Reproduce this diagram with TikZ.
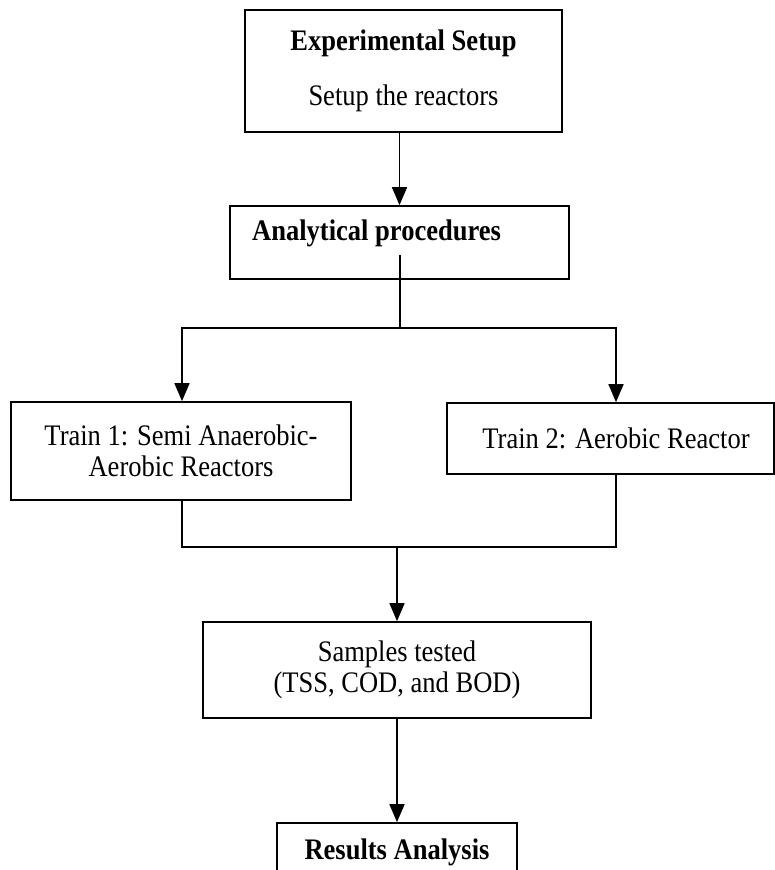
\documentclass[tikz,border=0pt]{standalone}
\usepackage{fontspec}
\setmainfont{Liberation Serif}[FakeStretch=0.89]
\usetikzlibrary{arrows.meta,calc}
\begin{document}
\begin{tikzpicture}[x=1pt,y=-1pt,
  txt/.style={font=\fontsize{29.8}{31}\selectfont},
  box/.style={draw, line width=1.7pt, inner sep=0pt, align=center, txt},
  conn/.style={line width=1.7pt},
  arr/.style={conn, -{Triangle[length=18pt,width=15pt]}}]
\useasboundingbox (0,0) rectangle (775,870);
\clip (0,0) rectangle (775,870);
% boxes
\node[box, minimum width=317pt, minimum height=122pt] (b1) at (403.5,71)
  {\textbf{Experimental Setup}\\[24pt]Setup the reactors};
\node[box, minimum width=339pt, minimum height=73pt] (b2) at (399.5,242.5) {};
\node[txt, anchor=west, inner sep=0pt] (b2t) at (252,233) {\textbf{Analytical procedures}};
\node[box, minimum width=340pt, minimum height=98pt] (b3) at (181,451)
  {Train 1: Semi Anaerobic-\\Aerobic Reactors};
\node[box, minimum width=327pt, minimum height=71pt] (b4) at (610.5,438.5) {};
\node[txt, inner sep=0pt] (b4t) at (616,438) {Train 2: Aerobic Reactor};
\node[box, minimum width=388pt, minimum height=96pt] (b5) at (397,670)
  {Samples tested\\(TSS, COD, and BOD)};
\node[box, minimum width=240pt, minimum height=58pt] (b6) at (397,852)
  {\textbf{Results Analysis}};
% coordinates
\coordinate (b2in) at (400,255);
\coordinate (splitc) at (400,328);
\coordinate (splitl) at (182,328);
\coordinate (splitr) at (616,328);
\coordinate (mergel) at (182,547);
\coordinate (merger) at (616,547);
\coordinate (mergec) at (397,547);
% connectors
\draw[arr] (b1.south -| b2.north) -- (b2.north);
\draw[conn] (b2in) -- (splitc);
\draw[arr] (splitc) -- (splitl) -- (splitl |- b3.north);
\draw[arr] (splitc) -- (splitr) -- (splitr |- b4.north);
\draw[conn] (mergel |- b3.south) -- (mergel) -- (merger) -- (merger |- b4.south);
\draw[arr] (mergec) -- (b5.north);
\draw[arr] (b5.south) -- (b6.north);
\end{tikzpicture}
\end{document}
